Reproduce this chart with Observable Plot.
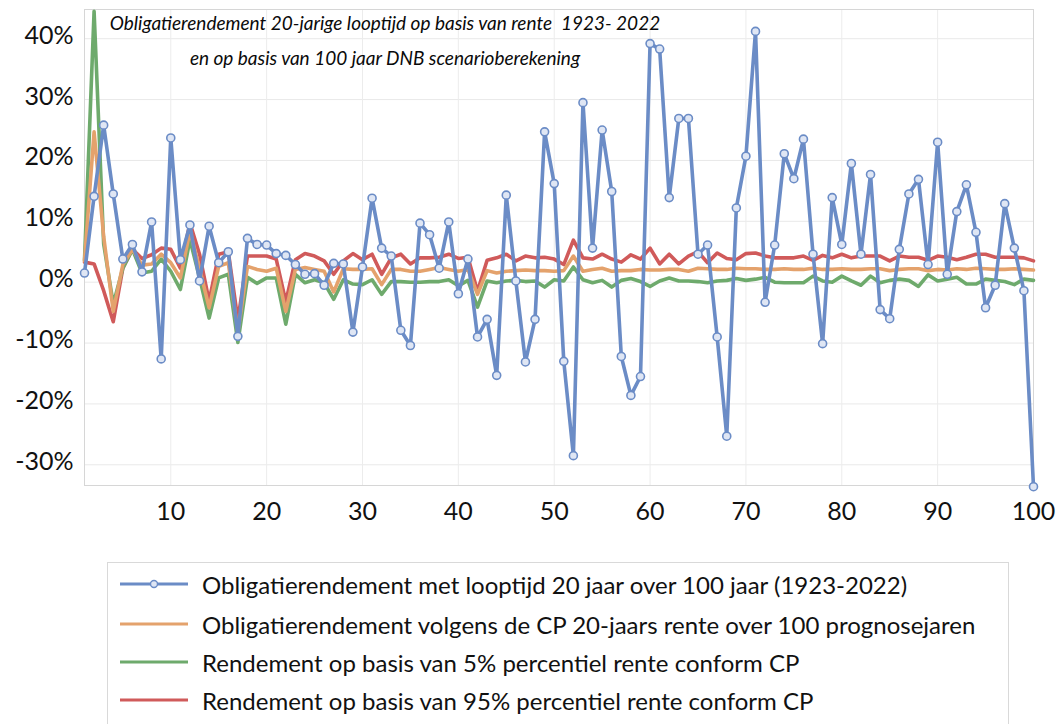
<!DOCTYPE html>
<html><head><meta charset="utf-8">
<script src="https://cdn.jsdelivr.net/npm/d3@7"></script>
<script src="https://cdn.jsdelivr.net/npm/@observablehq/plot@0.6"></script>
<style>
body{margin:0;background:#fff;font-family:Lato,"Liberation Sans",sans-serif;}
#wrap{position:relative;width:1059px;height:724px;overflow:hidden;background:#fff;}
#chart{position:absolute;left:0;top:0;}
#title{position:absolute;left:35px;width:700px;top:5px;text-align:center;font-style:italic;font-size:19px;line-height:35px;color:#0a0a0a;}
#legend{position:absolute;left:107px;top:562px;width:900px;height:180px;border:1px solid #d9d9d9;}
.row{position:absolute;left:0;height:30px;display:flex;align-items:center;font-size:24px;color:#111;white-space:nowrap;}
.row svg{margin-left:12px;margin-right:14px;}
</style></head>
<body>
<div id="wrap">
  <div id="chart"></div>
  <div id="title">Obligatierendement 20-jarige looptijd op basis van rente&nbsp; 1923- 2022<br>en op basis van 100 jaar DNB scenarioberekening</div>
  <div id="legend"></div>
</div>
<script>
const years = d3.range(1, 101);
const seriesNames = [
  "Obligatierendement met looptijd 20 jaar over 100 jaar (1923-2022)",
  "Obligatierendement volgens de CP 20-jaars rente over 100 prognosejaren",
  "Rendement op basis van 5% percentiel rente conform CP",
  "Rendement op basis van 95% percentiel rente conform CP"
];
const seriesColors = ["#6b8cc6", "#e4a26c", "#6eaa6c", "#d05a5a"];
const xTicks = [10,20,30,40,50,60,70,80,90,100];
const yTicks = [-30,-20,-10,0,10,20,30,40];

const historic = [1.5,14.1,25.8,14.5,3.8,6.2,1.7,9.9,-12.6,23.7,
3.7,9.4,0.2,9.2,3.2,5.0,-8.9,7.2,6.2,6.1,
4.7,4.4,2.9,1.3,1.4,-0.5,3.1,3.0,-8.2,2.5,
13.8,5.6,4.3,-7.9,-10.4,9.7,7.8,2.3,9.9,-1.9,
3.8,-9.0,-6.1,-15.3,14.3,0.2,-13.1,-6.1,24.7,16.2,
-13.0,-28.5,29.5,5.6,25.0,14.9,-12.2,-18.6,-15.5,39.2,
38.3,13.9,26.9,26.9,4.6,6.1,-9.0,-25.3,12.2,20.7,
41.2,-3.3,6.1,21.1,17.0,23.5,4.6,-10.1,13.9,6.2,
19.5,4.6,17.7,-4.5,-6.0,5.4,14.5,16.9,2.9,23.0,
1.3,11.6,16.0,8.2,-4.2,-0.5,12.9,5.6,-1.4,-33.6];

const cp = [3.5,24.7,7.5,-4.8,2.9,5.4,2.8,3.0,4.6,3.2,
0.7,8.4,2.3,-4.2,2.6,3.2,-8.2,2.6,2.1,1.8,
2.3,-4.8,2.1,2.4,2.1,1.8,-1.6,2.2,2.1,2.1,
2.2,-0.4,2.1,2.1,1.8,1.8,2.1,2.4,2.1,1.8,
2.1,-2.0,1.9,1.5,1.8,1.9,2.0,1.9,1.9,1.8,
1.9,4.3,1.8,2.1,2.3,1.8,1.9,1.9,2.1,2.0,
2.0,2.1,2.1,1.8,2.3,2.2,2.1,2.1,2.3,2.2,
2.2,2.1,2.1,2.2,2.1,2.1,2.3,2.1,2.1,2.2,
2.1,2.1,2.2,2.2,1.9,2.1,2.2,2.2,1.9,2.1,
2.0,2.2,2.1,2.3,2.2,2.1,2.1,2.2,2.1,2.0];

const p5 = [3.6,44.5,6.3,-3.6,2.3,5.4,1.5,1.8,3.8,1.8,
-1.2,7.0,0.7,-5.9,0.7,1.3,-9.9,0.8,-0.2,0.7,
0.7,-6.9,1.3,-0.1,0.4,-0.1,-2.8,0.4,-0.3,-0.4,
0.4,-2.0,0.1,0.1,0.0,0.0,0.1,0.1,0.4,-0.6,
0.3,-4.1,0.2,-0.1,0.2,0.3,0.1,0.2,-0.8,0.4,
0.2,2.5,0.4,-0.1,0.3,-0.8,0.3,0.6,0.1,-0.7,
0.2,0.7,0.2,0.2,0.1,-0.1,0.2,0.3,0.6,0.3,
0.5,0.8,0.0,-0.1,-0.1,-0.1,1.0,0.2,0.0,1.0,
0.2,-0.5,1.0,-0.1,0.3,0.5,0.3,-0.7,1.2,0.2,
0.5,0.8,-0.3,-0.3,0.5,0.3,0.1,-0.4,0.5,0.3];

const p95 = [3.3,3.0,-1.4,-6.5,2.3,5.4,3.9,4.5,5.6,5.4,
2.3,9.7,4.6,-3.1,4.6,5.0,-6.2,4.3,4.3,4.3,
3.8,-3.2,3.7,4.7,4.3,3.5,1.3,3.5,4.7,3.7,
4.6,1.3,4.0,4.6,3.0,4.0,4.0,4.1,4.6,3.9,
4.1,-1.5,3.6,4.0,4.6,3.5,4.3,4.0,4.1,3.8,
2.9,6.9,4.0,3.8,4.6,3.8,3.3,4.5,3.8,5.6,
3.0,4.6,3.0,4.3,5.0,3.2,4.8,3.9,3.7,4.7,
4.8,4.3,4.0,4.0,4.0,4.3,3.6,4.4,4.0,4.6,
4.0,4.3,4.3,4.3,3.5,4.3,4.1,4.1,3.6,4.3,
4.1,3.7,4.1,4.6,4.6,4.1,4.1,4.1,4.0,3.5];

const allSeries = [historic, cp, p5, p95];
const lineData = allSeries.map((vals, i) => years.map((yr, j) => ({x: yr, y: vals[j], s: i})));

const lineMarks = [3,2,1,0].map(i => Plot.line(lineData[i], {x: "x", y: "y", stroke: seriesColors[i], strokeWidth: 3.6, strokeLinejoin: "round"}));

const chart = Plot.plot({
  width: 1059,
  height: 530,
  marginLeft: 84,
  marginRight: 26,
  marginTop: 9,
  marginBottom: 45,
  style: {fontFamily: "Lato, 'Liberation Sans', sans-serif", fontSize: "25px", color: "#111", background: "#fff"},
  x: {domain: [1, 100], label: null},
  y: {domain: [-33.4, 44.8], label: null},
  marks: [
    Plot.gridY(yTicks, {stroke: "#e9e9e9", strokeOpacity: 1, strokeWidth: 1}),
    Plot.gridX(xTicks, {stroke: "#ececec", strokeOpacity: 1, strokeWidth: 1}),
    Plot.frame({stroke: "#d6d6d6"}),
    Plot.axisX({ticks: xTicks, tickSize: 0, tickPadding: 17, label: null}),
    Plot.axisY({ticks: yTicks, tickSize: 0, tickPadding: 11, dy: -3, tickFormat: d => d + "%", label: null}),
    ...lineMarks,
    Plot.dot(lineData[0], {x: "x", y: "y", r: 4, fill: "#dfe6f4", stroke: seriesColors[0], strokeWidth: 1.6})
  ]
});
document.getElementById("chart").appendChild(chart);

const legend = document.getElementById("legend");
const rowTops = [6, 46, 84, 122];
seriesNames.forEach((name, i) => {
  const row = document.createElement("div");
  row.className = "row";
  row.style.top = rowTops[i] + "px";
  const marker = i === 0 ? `<circle cx="34" cy="5" r="3.5" fill="#dfe6f4" stroke="${seriesColors[0]}" stroke-width="1.4"/>` : "";
  row.innerHTML = `<svg width="68" height="10"><line x1="0" x2="68" y1="5" y2="5" stroke="${seriesColors[i]}" stroke-width="3"/>${marker}</svg><span>${name}</span>`;
  legend.appendChild(row);
});
</script>
</body></html>
